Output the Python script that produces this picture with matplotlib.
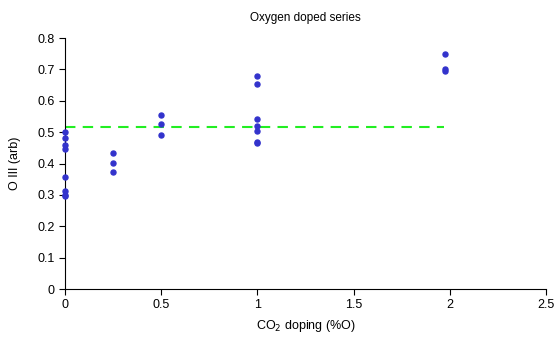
import matplotlib
matplotlib.use("Agg")
import matplotlib.pyplot as plt

plt.rcParams['font.family'] = ['Liberation Sans', 'DejaVu Sans']

doping = [0, 0, 0, 0, 0, 0, 0, 0,
          0.25, 0.25, 0.25,
          0.5, 0.5, 0.5,
          1, 1, 1, 1, 1, 1, 1,
          1.977, 1.977, 1.977]
oiii = [0.50, 0.482, 0.459, 0.445, 0.358, 0.312, 0.300, 0.296,
        0.434, 0.403, 0.373,
        0.555, 0.525, 0.491,
        0.680, 0.654, 0.543, 0.520, 0.505, 0.469, 0.464,
        0.749, 0.700, 0.696]
ref_level = 0.516
ref_x = [0, 1.97]

fig = plt.figure(figsize=(5.56, 3.37), dpi=100)
ax = fig.add_axes([0.117, 0.1424, 0.865, 0.7446])
ax.scatter(doping, oiii, s=13, color='#3333cc', zorder=3, clip_on=False)
ax.plot(ref_x, [ref_level, ref_level], color='#22ee22', linestyle=(0, (5, 3.5)), lw=1.5, zorder=2)

ax.set_xlim(0, 2.5)
ax.set_ylim(0, 0.8)
ax.set_xticks([0, 0.5, 1, 1.5, 2, 2.5])
ax.set_xticklabels(['0', '0.5', '1', '1.5', '2', '2.5'])
ax.set_yticks([0, 0.1, 0.2, 0.3, 0.4, 0.5, 0.6, 0.7, 0.8])
ax.set_yticklabels(['0', '0.1', '0.2', '0.3', '0.4', '0.5', '0.6', '0.7', '0.8'])
for s in ['top', 'right']:
    ax.spines[s].set_visible(False)
ax.tick_params(direction='out', length=4, labelsize=9)
ax.set_xlabel('CO$_2$ doping (%O)', fontsize=9, labelpad=5)
ax.set_ylabel('O III (arb)', fontsize=9, labelpad=12)
ax.set_title('Oxygen doped series', fontsize=8.5, pad=12)
fig.savefig('out.png', dpi=100)
